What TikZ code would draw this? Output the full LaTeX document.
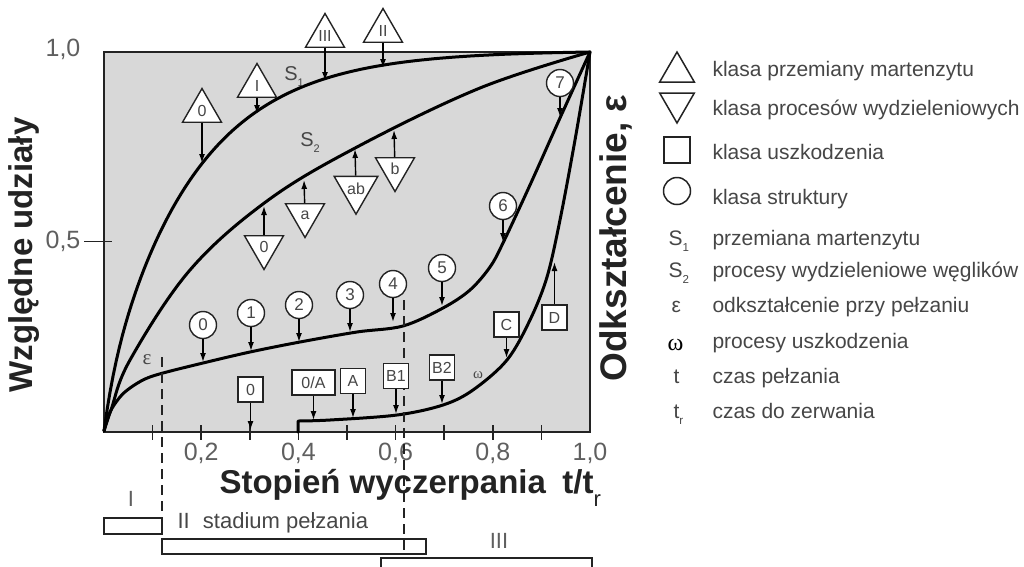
\documentclass[tikz,border=0pt]{standalone}
\usepackage{fontspec}
\usepackage{graphicx}
\setmainfont{Liberation Sans}
\newfontfamily\grserif{Liberation Serif}
\usetikzlibrary{arrows.meta,shapes.geometric}
\definecolor{plotbg}{RGB}{216,216,216}
\definecolor{ink}{RGB}{35,35,35}
\definecolor{softink}{RGB}{70,70,70}
\definecolor{tickink}{RGB}{95,95,95}
\newcommand\lowsub[1]{\raisebox{-0.3em}{\scalebox{0.55}{#1}}}

\begin{document}
\begin{tikzpicture}[x=1pt,y=-1pt,
  fs/.style={font=\fontsize{#1}{#1}\selectfont},
  bfs/.style={font=\bfseries\fontsize{#1}{#1}\selectfont},
  curve/.style={line width=3pt, black, line cap=round, line join=round},
  ptr/.style={line width=1.4pt, black, -{Latex[length=9pt,width=6pt]}},
  mk/.style={draw=ink, line width=1.4pt, fill=white, inner sep=0pt, text=softink, fs=16},
  circmk/.style={mk, circle, minimum size=27pt, fs=17},
  boxmk/.style={mk, rectangle, minimum height=25pt, minimum width=25pt},
  uptri/.style={mk, regular polygon, regular polygon sides=3, minimum size=45pt},
  dntri/.style={uptri, regular polygon rotate=180},
  legsym/.style={draw=ink, line width=1.5pt, fill=none, inner sep=0pt},
  legtxt/.style={anchor=base west, text=softink, fs=21},
  stagebar/.style={draw=ink, line width=1.6pt, fill=white},
  divider/.style={line width=1.6pt, ink, dash pattern=on 10pt off 6pt},
  tick/.style={line width=1.6pt, ink},
  ticklab/.style={text=tickink, fs=25}
]
\useasboundingbox (0,0) rectangle (1024,566);

% ---- plot frame ----
\draw[fill=plotbg, draw=ink, line width=2.5pt] (104,52) rectangle (590,432);

% axis ticks and tick labels
\foreach \i in {1,...,9} {
  \draw[tick] ({104+48.6*\i},425) -- ({104+48.6*\i},440);
}
\draw[tick] (84,241.5) -- (112,241.5);
\foreach \v/\lab in {2/{0,2},4/{0,4},6/{0,6},8/{0,8},10/{1,0}} {
  \node[ticklab] (xl\v) at ({104+48.6*\v},453) {\lab};
}
\node[ticklab] (yl10) at (63,49) {1,0};
\node[ticklab] (yl05) at (63,241) {0,5};

% axis titles
\node[bfs=33, text=ink, rotate=90] (ytitle) at (24,255) {Względne udziały};
\node[bfs=37, text=ink, rotate=90] (rtitle) at (616,238) {Odkształcenie, ε};
\node[bfs=33, text=ink, anchor=base west] (xtitle) at (216,493)
  {Stopień wyczerpania\hspace{0.5em}t/t\raisebox{-0.42em}{\mdseries\fontsize{22}{22}\selectfont r}};

% ---- curves ----
% S1: martensite transformation
\draw[curve] plot[domain=0:1, samples=160, variable=\t]
  ({104+486*\t},{431-379*(1-exp(-5.5*\t)*(1-0.1*(1-exp(-40*\t))))/0.9963});
% S2: carbide precipitation
\draw[curve] plot[smooth, tension=0.6] coordinates {(104,431) (111,410) (130,360) (190,270)
  (267,201) (357,147) (480,88) (590,52)};
% creep strain
\draw[curve] plot[smooth, tension=0.55] coordinates {(104,431) (110,412) (120,397) (130,388)
  (145,379) (163,373) (203,363) (250,352) (300,342) (357,332) (403,326) (443,308) (470,290)
  (490,267) (503,243) (530,185) (560,118) (590,52)};
% damage
\draw[curve] (298,432) -- plot[smooth, tension=0.55] coordinates {(298,421) (330,420) (397,415)
  (443,405) (473,390) (507,360) (530,320) (547,277) (560,220) (575,140) (590,52)};

\node[text=softink, fs=20] (s1lab) at (294,77) {S\lowsub{1}};
\node[text=softink, fs=20] (s2lab) at (310,143) {S\lowsub{2}};
\node[text=softink, font=\grserif\fontsize{21}{21}\selectfont] (epslab) at (147,360) {ε};
\node[text=softink, font=\grserif\fontsize{15}{15}\selectfont] (omlab) at (478,375) {ω};

% ---- creep stages ----
\draw[stagebar] (104,518) rectangle (162,534);
\draw[stagebar] (162,539) rectangle (426,554);
\draw[stagebar] (381,558) rectangle (592,574);
\node[text=tickink, fs=22] (st1) at (131,499) {I};
\node[text=softink, fs=22, anchor=west] (st2) at (174,523) {II\hspace{0.6em}stadium pełzania};
\node[text=tickink, fs=22] (st3) at (499,541) {III};

% stage boundaries
\draw[divider] (162,357) -- (162,518);
\draw[divider] (404,300) -- (404,552);

% ---- martensite class markers ----
\node[uptri] (m0) at (202,111) {0};
\node[uptri] (m1) at (257,86) {I};
\node[uptri] (m3) at (325,36) {III};
\node[uptri] (m2) at (383,31) {II};
\coordinate (m0t) at (202,163);
\coordinate (m1t) at (257,114);
\coordinate (m3t) at (325,81);
\coordinate (m2t) at (383,68);
\foreach \n in {m0,m1,m3,m2} \draw[ptr] (\n) -- (\n t);

% ---- precipitation class markers ----
\node[dntri] (p0) at (264,247) {0};
\node[dntri] (pa) at (305,215) {a};
\node[dntri] (pab) at (356,189) {ab};
\node[dntri] (pb) at (395,169) {b};
\coordinate (p0t) at (264,206);
\coordinate (pat) at (304,180);
\coordinate (pabt) at (355,149);
\coordinate (pbt) at (394,130);
\foreach \n in {p0,pa,pab,pb} \draw[ptr] (\n) -- (\n t);

% ---- structure class markers ----
\foreach \n/\x/\y/\ty in {0/203/325/362, 1/251/313/351, 2/299/305/342, 3/350/295/332,
                           4/393/284/322, 5/442/268/306, 6/503/206/242, 7/560/83/117} {
  \node[circmk] (c\n) at (\x,\y) {\n};
  \coordinate (c\n t) at (\x,\ty);
  \draw[ptr] (c\n) -- (c\n t);
}

% ---- damage class markers ----
\node[boxmk] (d0) at (250.5,389.5) {0};
\node[boxmk, minimum width=43pt] (d0a) at (313.5,382.5) {0/A};
\node[boxmk] (da) at (353,381) {A};
\node[boxmk] (db1) at (396,376) {B1};
\node[boxmk] (db2) at (442,367.5) {B2};
\node[boxmk] (dc) at (506.5,324.5) {C};
\node[boxmk] (dd) at (554.5,317.5) {D};
\coordinate (d0t) at (250.5,430);
\coordinate (d0at) at (313.5,420);
\coordinate (dat) at (353,418);
\coordinate (db1t) at (396,414);
\coordinate (db2t) at (442,404);
\coordinate (dct) at (506.5,358);
\coordinate (ddt) at (554.5,262);
\foreach \n in {d0,d0a,da,db1,db2,dc,dd} \draw[ptr] (\n) -- (\n t);

% ---- legend ----
\node[legsym, regular polygon, regular polygon sides=3, minimum size=40pt] (lg1) at (677,72) {};
\node[legsym, regular polygon, regular polygon sides=3, regular polygon rotate=180, minimum size=40pt] (lg2) at (677,103) {};
\node[legsym, rectangle, minimum size=26pt] (lg3) at (677,150) {};
\node[legsym, circle, minimum size=27pt] (lg4) at (677,191) {};
\node[legtxt] (lt1) at (709,76) {klasa przemiany martenzytu};
\node[legtxt] (lt2) at (709,115) {klasa procesów wydzieleniowych};
\node[legtxt] (lt3) at (709,159) {klasa uszkodzenia};
\node[legtxt] (lt4) at (709,204) {klasa struktury};
\node[legtxt] (ls5) at (665,245) {S\lowsub{1}};
\node[legtxt] (lt5) at (709,245) {przemiana martenzytu};
\node[legtxt] (ls6) at (665,277) {S\lowsub{2}};
\node[legtxt] (lt6) at (709,277) {procesy wydzieleniowe węglików};
\node[legtxt] (ls7) at (668,312) {ε};
\node[legtxt] (lt7) at (709,312) {odkształcenie przy pełzaniu};
\node[legtxt, font=\grserif\fontsize{24}{24}\selectfont, text=black] (ls8) at (664,350) {ω};
\node[legtxt] (lt8) at (709,348) {procesy uszkodzenia};
\node[legtxt] (ls9) at (670,383) {t};
\node[legtxt] (lt9) at (709,383) {czas pełzania};
\node[legtxt] (ls10) at (670,418) {t\lowsub{r}};
\node[legtxt] (lt10) at (709,418) {czas do zerwania};
\end{tikzpicture}
\end{document}
